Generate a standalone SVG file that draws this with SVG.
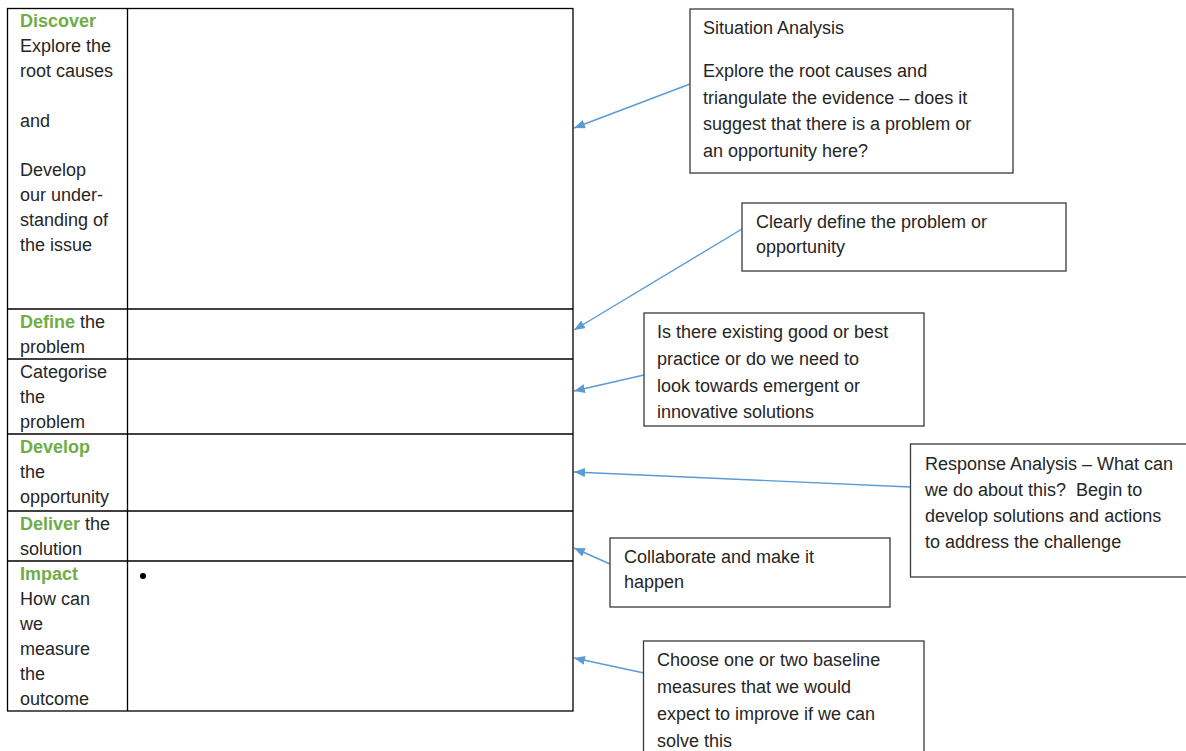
<svg xmlns="http://www.w3.org/2000/svg" width="1186" height="751" viewBox="0 0 1186 751">
<style>
text{font-family:"Liberation Sans",Arial,sans-serif;font-size:18px;fill:#262626}
.g{fill:#70AD47;font-weight:bold}
.tbl{fill:none;stroke:#000;stroke-width:1.3}
.box{fill:#fff;stroke:#3a3a3a;stroke-width:1.3}
.arr{stroke:#5B9BD5;stroke-width:1.4;fill:none;marker-end:url(#ah)}
</style>
<defs>
<marker id="ah" markerUnits="userSpaceOnUse" markerWidth="12" markerHeight="10" refX="11" refY="4.5" orient="auto">
<path d="M0,0 L11,4.5 L0,9 z" fill="#5B9BD5"/>
</marker>
</defs>
<rect width="1186" height="751" fill="#fff"/>
<g id="table">
<rect class="tbl" x="7.5" y="8.5" width="565.5" height="702.5"/>
<line class="tbl" x1="127.5" y1="8.5" x2="127.5" y2="711"/>
<line class="tbl" x1="7.5" y1="309" x2="573" y2="309"/>
<line class="tbl" x1="7.5" y1="359" x2="573" y2="359"/>
<line class="tbl" x1="7.5" y1="434" x2="573" y2="434"/>
<line class="tbl" x1="7.5" y1="511" x2="573" y2="511"/>
<line class="tbl" x1="7.5" y1="561" x2="573" y2="561"/>
<circle cx="143" cy="576" r="3" fill="#000"/>
</g>
<g id="row-discover">
<text x="20" y="27" class="g">Discover</text>
<text x="20" y="52">Explore the</text>
<text x="20" y="77">root causes</text>
<text x="20" y="127">and</text>
<text x="20" y="176">Develop</text>
<text x="20" y="201">our under-</text>
<text x="20" y="226">standing of</text>
<text x="20" y="251">the issue</text>
</g>
<g id="row-define">
<text x="20" y="328"><tspan class="g">Define</tspan> the</text>
<text x="20" y="353">problem</text>
</g>
<g id="row-categorise">
<text x="20" y="378">Categorise</text>
<text x="20" y="403">the</text>
<text x="20" y="428">problem</text>
</g>
<g id="row-develop">
<text x="20" y="453" class="g">Develop</text>
<text x="20" y="478">the</text>
<text x="20" y="503">opportunity</text>
</g>
<g id="row-deliver">
<text x="20" y="530"><tspan class="g">Deliver</tspan> the</text>
<text x="20" y="555">solution</text>
</g>
<g id="row-impact">
<text x="20" y="580" class="g">Impact</text>
<text x="20" y="605">How can</text>
<text x="20" y="630">we</text>
<text x="20" y="655">measure</text>
<text x="20" y="680">the</text>
<text x="20" y="705">outcome</text>
</g>
<g id="connectors">
<line class="arr" x1="690" y1="84" x2="574" y2="128"/>
<line class="arr" x1="742" y1="229" x2="574" y2="330"/>
<line class="arr" x1="644" y1="375" x2="574" y2="391"/>
<line class="arr" x1="910" y1="487" x2="574" y2="472"/>
<line class="arr" x1="610" y1="564" x2="574" y2="548"/>
<line class="arr" x1="644" y1="673" x2="574" y2="658"/>
</g>
<g id="box-situation">
<rect class="box" x="690" y="9" width="323" height="164"/>
<text x="703" y="34">Situation Analysis</text>
<text x="703" y="77">Explore the root causes and</text>
<text x="703" y="104">triangulate the evidence – does it</text>
<text x="703" y="130">suggest that there is a problem or</text>
<text x="703" y="157">an opportunity here?</text>
</g>
<g id="box-define">
<rect class="box" x="742" y="203" width="324" height="68"/>
<text x="756" y="228">Clearly define the problem or</text>
<text x="756" y="253">opportunity</text>
</g>
<g id="box-practice">
<rect class="box" x="644" y="313" width="280" height="113"/>
<text x="657" y="338">Is there existing good or best</text>
<text x="657" y="365">practice or do we need to</text>
<text x="657" y="392">look towards emergent or</text>
<text x="657" y="418">innovative solutions</text>
</g>
<g id="box-response">
<rect class="box" x="910.5" y="444" width="280" height="133"/>
<text x="925" y="470">Response Analysis – What can</text>
<text x="925" y="496">we do about this?&#160; Begin to</text>
<text x="925" y="522">develop solutions and actions</text>
<text x="925" y="548">to address the challenge</text>
</g>
<g id="box-collaborate">
<rect class="box" x="610" y="538" width="280" height="69"/>
<text x="624" y="563">Collaborate and make it</text>
<text x="624" y="588">happen</text>
</g>
<g id="box-measures">
<rect class="box" x="643.5" y="641" width="280.5" height="120"/>
<text x="657" y="666">Choose one or two baseline</text>
<text x="657" y="693">measures that we would</text>
<text x="657" y="720">expect to improve if we can</text>
<text x="657" y="747">solve this</text>
</g>
</svg>
